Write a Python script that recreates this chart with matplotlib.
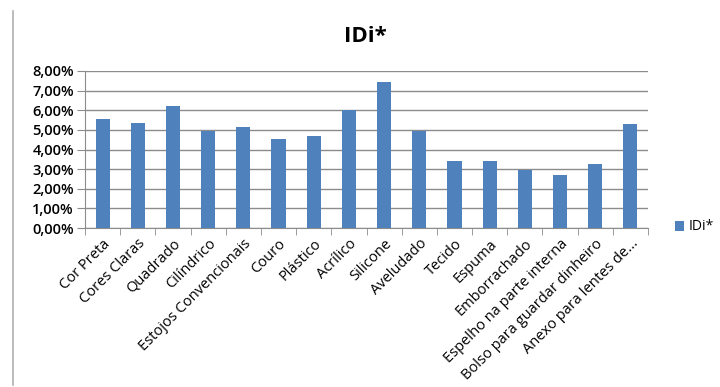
import matplotlib.pyplot as plt
import matplotlib.ticker as mticker
import numpy as np

categorias = ["Cor Preta", "Cores Claras", "Quadrado", "Cilíndrico",
              "Estojos Convencionais", "Couro", "Plástico", "Acrílico",
              "Silicone", "Aveludado", "Tecido", "Espuma", "Emborrachado",
              "Espelho na parte interna", "Bolso para guardar dinheiro",
              "Anexo para lentes de..."]
idi = [5.57, 5.37, 6.20, 4.94, 5.13, 4.51, 4.67, 6.02,
       7.42, 4.94, 3.40, 3.40, 2.94, 2.70, 3.25, 5.30]

plt.rcParams['font.family'] = ['Open Sans', 'DejaVu Sans']

fig = plt.figure(figsize=(7.2, 3.87), dpi=100)
ax = fig.add_axes([85/720, 1-228/387, (648-85)/720, (228-71)/387])

x = np.arange(len(categorias))
ax.bar(x, idi, width=0.4, color='#4F81BD', label='IDi*', zorder=3)

ax.set_xlim(-0.5, len(categorias)-0.5)
ax.set_ylim(0, 8)
ax.yaxis.set_major_locator(mticker.MultipleLocator(1))
ax.yaxis.set_major_formatter(mticker.FuncFormatter(lambda v, p: ('%.2f%%' % v).replace('.', ',')))
ax.grid(axis='y', color='#8c8c8c', linewidth=1, zorder=0)

ax.set_xticks(x)
ax.set_xticklabels(categorias, rotation=45, ha='right', rotation_mode='anchor', fontsize=10.5)
ax.set_xticks(np.arange(len(categorias)+1)-0.5, minor=True)
ax.tick_params(axis='x', which='major', length=0, pad=6)
ax.tick_params(axis='x', which='minor', length=5, color='#8c8c8c')
ax.tick_params(axis='y', length=6, color='#8c8c8c', labelsize=10.5, pad=2)
for lab in ax.get_yticklabels():
    lab.set_fontweight('semibold')

for s in ['top', 'right']:
    ax.spines[s].set_visible(False)
for s in ['left', 'bottom']:
    ax.spines[s].set_color('#8c8c8c')

fig.text(365/720, 1-37/387, 'IDi*', ha='center', va='center', fontsize=16, fontweight='bold')
fig.legend(loc='center left', bbox_to_anchor=(662/720, 1-227/387), frameon=False,
           handlelength=0.7, handleheight=0.7, handletextpad=0.3, fontsize=10)

fig.add_artist(plt.Line2D([13/720, 13/720], [1-385/387, 1-11/387], color='#b0b0b0', linewidth=1.2))

fig.savefig('out.png', dpi=100)
